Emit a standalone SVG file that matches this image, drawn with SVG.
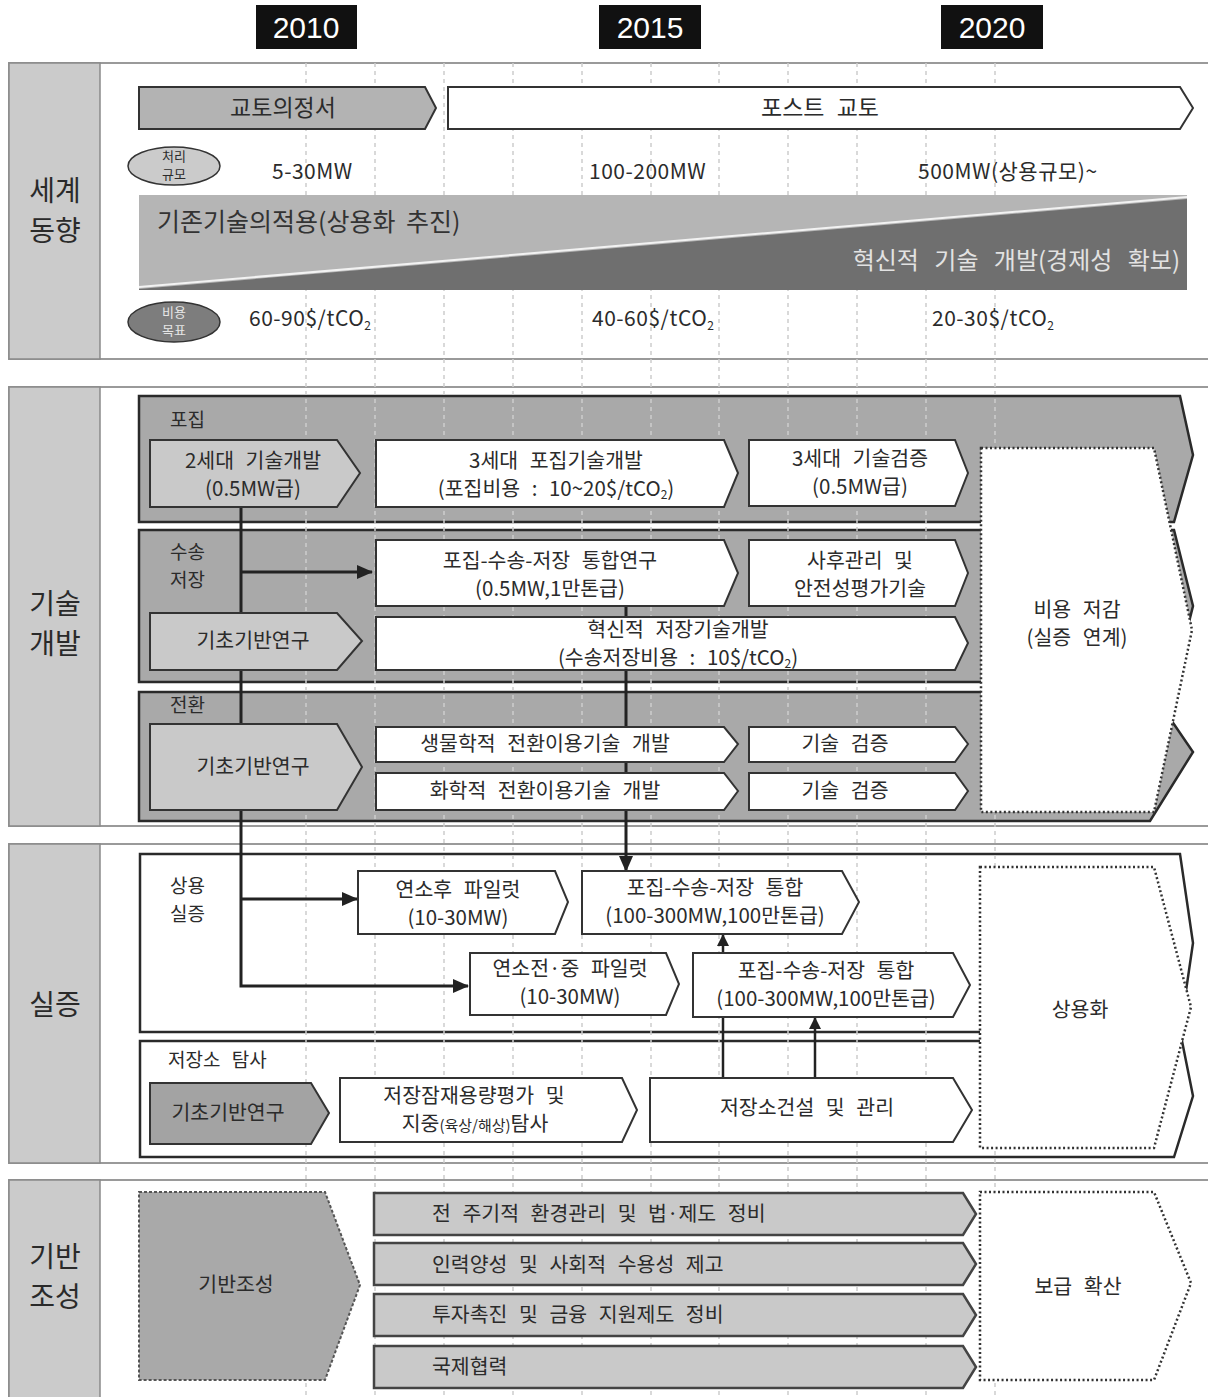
<svg xmlns="http://www.w3.org/2000/svg" width="1208" height="1397" viewBox="0 0 1208 1397">
<style>
.t{font-family:"Noto Sans CJK KR","Noto Sans",sans-serif;font-size:20.5px;fill:#2b2b2b;word-spacing:7px;text-anchor:middle}
.l{text-anchor:start}
.lb{font-size:19px}
.sec{font-size:28px;fill:#2a2a2a;word-spacing:0}
.sm{font-size:13px;word-spacing:0}
.num{font-size:21px;text-anchor:start;letter-spacing:0.5px}
.yr{font-family:"Liberation Sans",Arial,sans-serif;font-size:30px;fill:#fff;text-anchor:middle}
.frame{fill:#fff;stroke:#9a9a9a;stroke-width:2}
.col{fill:#cbcbcb;stroke:#8a8a8a;stroke-width:1.5}
.nw{fill:#fff;stroke:#333;stroke-width:2}
.ng{fill:#c9c9c9;stroke:#333;stroke-width:2}
.bar{fill:#c9c9c9;stroke:#444;stroke-width:2.5}
.band{fill:#a9a9a9;stroke:#2a2a2a;stroke-width:2.5}
.panel{fill:#fff;stroke:#2a2a2a;stroke-width:2.5}
.dot{fill:#fff;stroke:#333;stroke-width:2.5;stroke-dasharray:2 2.5}
.guide{stroke:#cdcdcd;stroke-width:1.5;stroke-dasharray:4 4}
.conn{stroke:#222;stroke-width:3;fill:none}
.thin{stroke:#222;stroke-width:2.5;fill:none}
</style>
<defs>
<marker id="arr" markerUnits="userSpaceOnUse" markerWidth="16" markerHeight="14" viewBox="0 0 16 14" refX="15" refY="7" orient="auto"><path d="M0,0 L16,7 L0,14 z" fill="#222"/></marker>
<marker id="arrs" markerUnits="userSpaceOnUse" markerWidth="12" markerHeight="12" viewBox="0 0 12 12" refX="11" refY="6" orient="auto"><path d="M0,0 L12,6 L0,12 z" fill="#222"/></marker>
</defs>
<rect width="1208" height="1397" fill="#fff"/>

<!-- year labels -->
<g id="years">
<rect x="256" y="5" width="101" height="44" fill="#111"/><text class="yr" x="306" y="38">2010</text>
<rect x="599" y="5" width="102" height="44" fill="#111"/><text class="yr" x="650" y="38">2015</text>
<rect x="941" y="5" width="102" height="44" fill="#111"/><text class="yr" x="992" y="38">2020</text>
</g>

<!-- section frames -->
<g id="sections">
<rect class="frame" x="9" y="63" width="1210" height="296"/>
<rect class="col" x="9" y="63" width="91" height="296"/>
<text class="t sec" x="55" y="201">세계</text><text class="t sec" x="55" y="241">동향</text>
<rect class="frame" x="9" y="387" width="1210" height="439"/>
<rect class="col" x="9" y="387" width="91" height="439"/>
<text class="t sec" x="55" y="614">기술</text><text class="t sec" x="55" y="654">개발</text>
<rect class="frame" x="9" y="844" width="1210" height="319"/>
<rect class="col" x="9" y="844" width="91" height="319"/>
<text class="t sec" x="55" y="1015">실증</text>
<rect class="frame" x="9" y="1180" width="1210" height="240"/>
<rect class="col" x="9" y="1180" width="91" height="240"/>
<text class="t sec" x="55" y="1267">기반</text><text class="t sec" x="55" y="1307">조성</text>
</g>

<!-- bands / panels -->
<g id="bands">
<polygon class="band" points="139,396 1180,396 1193,455 1174,522 139,522"/>
<polygon class="band" points="139,530 1174,530 1193,606 1174,682 139,682"/>
<polygon class="band" points="139,692 1152,692 1193,752 1150,821 139,821"/>
<polygon class="panel" points="140,854 1180,854 1193,943 1180,1032 140,1032"/>
<polygon class="panel" points="140,1041 1182,1041 1193,1096 1174,1157 140,1157"/>
<text class="t l lb" x="170" y="427">포집</text>
<text class="t l lb" x="170" y="559">수송</text>
<text class="t l lb" x="170" y="587">저장</text>
<text class="t l lb" x="170" y="712">전환</text>
<text class="t l lb" x="170" y="893">상용</text>
<text class="t l lb" x="170" y="921">실증</text>
<text class="t l lb" x="168" y="1067">저장소 탐사</text>
</g>

<!-- guide lines -->
<g id="guides">
<line class="guide" x1="306" y1="63" x2="306" y2="1397"/>
<line class="guide" x1="375" y1="63" x2="375" y2="1397"/>
<line class="guide" x1="444" y1="63" x2="444" y2="1397"/>
<line class="guide" x1="513" y1="63" x2="513" y2="1397"/>
<line class="guide" x1="582" y1="63" x2="582" y2="1397"/>
<line class="guide" x1="651" y1="63" x2="651" y2="1397"/>
<line class="guide" x1="719" y1="63" x2="719" y2="1397"/>
<line class="guide" x1="788" y1="63" x2="788" y2="1397"/>
<line class="guide" x1="857" y1="63" x2="857" y2="1397"/>
<line class="guide" x1="926" y1="63" x2="926" y2="1397"/>
<line class="guide" x1="995" y1="63" x2="995" y2="1397"/>
</g>

<!-- connectors -->
<g id="connectors">
<path class="conn" d="M241,507 V986 H468" marker-end="url(#arr)"/>
<path class="conn" d="M241,572 H372" marker-end="url(#arr)"/>
<path class="conn" d="M241,899 H357" marker-end="url(#arr)"/>
<path class="conn" d="M626,606 V871" marker-end="url(#arr)"/>
<path class="thin" d="M723,1078 V935" marker-end="url(#arrs)"/>
<path class="thin" d="M815,1078 V1018" marker-end="url(#arrs)"/>
</g>

<!-- world trend section -->
<g id="kyoto"><polygon points="139,87 425,87 436,108 425,129 139,129" fill="#b3b3b3" stroke="#333" stroke-width="2"/><text class="t" x="283" y="116" style="font-size:23px">교토의정서</text></g>
<g id="postkyoto"><polygon class="nw" points="448,87 1180,87 1193,108 1180,129 448,129"/><text class="t" x="820" y="116" style="font-size:23px">포스트 교토</text></g>
<g id="scale"><ellipse cx="174" cy="166" rx="46" ry="19" fill="#cbcbcb" stroke="#333" stroke-width="1.5"/><text class="t sm" x="174" y="161">처리</text><text class="t sm" x="174" y="179">규모</text></g>
<g id="scale-values">
<text class="t num" x="272" y="179">5-30MW</text>
<text class="t num" x="589" y="179">100-200MW</text>
<text class="t num" x="918" y="179">500MW(상용규모)~</text>
</g>
<g id="wedge">
<rect x="139" y="195" width="1048" height="95" fill="#b5b5b5"/>
<polygon points="139,289 1187,199 1187,290 139,290" fill="#6f6f6f"/>
<line x1="139" y1="287" x2="1187" y2="197" stroke="#f2f2f2" stroke-width="2"/>
<text class="t l" x="157" y="231" style="font-size:25px;fill:#333;word-spacing:5px">기존기술의적용(상용화 추진)</text>
<text class="t" x="1180" y="269" style="font-size:24px;fill:#e2e2e2;text-anchor:end;word-spacing:10px">혁신적 기술 개발(경제성 확보)</text>
</g>
<g id="cost"><ellipse cx="174" cy="322" rx="46" ry="20" fill="#7d7d7d" stroke="#333" stroke-width="1.5"/><text class="t sm" x="174" y="317" style="fill:#e6e6e6">비용</text><text class="t sm" x="174" y="335" style="fill:#e6e6e6">목표</text></g>
<g id="cost-values">
<text class="t num" x="249" y="326">60-90$/tCO<tspan style="font-size:12px" dy="4">2</tspan></text>
<text class="t num" x="592" y="326">40-60$/tCO<tspan style="font-size:12px" dy="4">2</tspan></text>
<text class="t num" x="932" y="326">20-30$/tCO<tspan style="font-size:12px" dy="4">2</tspan></text>
</g>

<!-- tech dev nodes -->
<g id="n-2gen"><polygon class="ng" points="150,440 337,440 360,473 337,507 150,507"/><text class="t" x="253" y="468">2세대 기술개발</text><text class="t" x="253" y="496">(0.5MW급)</text></g>
<g id="n-3gen"><polygon class="nw" points="376,440 724,440 738,473 724,507 376,507"/><text class="t" x="556" y="468">3세대 포집기술개발</text><text class="t" x="556" y="496">(포집비용 : 10~20$/tCO<tspan style="font-size:12px" dy="3">2</tspan><tspan dy="-3">)</tspan></text></g>
<g id="n-3verify"><polygon class="nw" points="749,440 955,440 968,473 955,506 749,506"/><text class="t" x="860" y="466">3세대 기술검증</text><text class="t" x="860" y="494">(0.5MW급)</text></g>
<g id="n-integ-research"><polygon class="nw" points="376,540 724,540 738,573 724,606 376,606"/><text class="t" x="550" y="568">포집-수송-저장 통합연구</text><text class="t" x="550" y="596">(0.5MW,1만톤급)</text></g>
<g id="n-aftercare"><polygon class="nw" points="749,540 955,540 968,573 955,606 749,606"/><text class="t" x="860" y="568">사후관리 및</text><text class="t" x="860" y="596">안전성평가기술</text></g>
<g id="n-basic1"><polygon class="ng" points="150,613 337,613 362,641 337,670 150,670"/><text class="t" x="253" y="648">기초기반연구</text></g>
<g id="n-innov-storage"><polygon class="nw" points="376,617 955,617 968,643 955,670 376,670"/><text class="t" x="678" y="637">혁신적 저장기술개발</text><text class="t" x="678" y="665">(수송저장비용 : 10$/tCO<tspan style="font-size:12px" dy="3">2</tspan><tspan dy="-3">)</tspan></text></g>
<g id="n-basic2"><polygon class="ng" points="150,724 337,724 362,767 337,810 150,810"/><text class="t" x="253" y="774">기초기반연구</text></g>
<g id="n-bio"><polygon class="nw" points="376,727 724,727 738,744 724,762 376,762"/><text class="t" x="545" y="751">생물학적 전환이용기술 개발</text></g>
<g id="n-chem"><polygon class="nw" points="376,773 724,773 738,791 724,810 376,810"/><text class="t" x="545" y="798">화학적 전환이용기술 개발</text></g>
<g id="n-verify1"><polygon class="nw" points="749,727 955,727 968,744 955,762 749,762"/><text class="t" x="845" y="751">기술 검증</text></g>
<g id="n-verify2"><polygon class="nw" points="749,773 955,773 968,791 955,810 749,810"/><text class="t" x="845" y="798">기술 검증</text></g>
<g id="n-costdown"><polygon class="dot" points="981,448 1154,448 1192,630 1154,812 981,812"/><text class="t" x="1077" y="617">비용 저감</text><text class="t" x="1077" y="645">(실증 연계)</text></g>

<!-- demonstration nodes -->
<g id="n-post-pilot"><polygon class="nw" points="358,871 555,871 568,902 555,934 358,934"/><text class="t" x="458" y="897">연소후 파일럿</text><text class="t" x="458" y="925">(10-30MW)</text></g>
<g id="n-integ1"><polygon class="nw" points="582,871 842,871 859,902 842,934 582,934"/><text class="t" x="715" y="895">포집-수송-저장 통합</text><text class="t" x="715" y="923">(100-300MW,100만톤급)</text></g>
<g id="n-pre-pilot"><polygon class="nw" points="470,953 666,953 679,984 666,1015 470,1015"/><text class="t" x="570" y="976">연소전·중 파일럿</text><text class="t" x="570" y="1004">(10-30MW)</text></g>
<g id="n-integ2"><polygon class="nw" points="693,953 953,953 970,985 953,1017 693,1017"/><text class="t" x="826" y="978">포집-수송-저장 통합</text><text class="t" x="826" y="1006">(100-300MW,100만톤급)</text></g>
<g id="n-basic3"><polygon points="150,1083 311,1083 329,1113 311,1144 150,1144" fill="#a3a3a3" stroke="#333" stroke-width="2"/><text class="t" x="228" y="1120">기초기반연구</text></g>
<g id="n-explore"><polygon class="nw" points="340,1078 622,1078 637,1110 622,1142 340,1142"/><text class="t" x="474" y="1103">저장잠재용량평가 및</text><text class="t" x="475" y="1131" style="word-spacing:0">지중<tspan style="font-size:15px">(육상/해상)</tspan>탐사</text></g>
<g id="n-build"><polygon class="nw" points="650,1078 953,1078 972,1110 953,1142 650,1142"/><text class="t" x="807" y="1115">저장소건설 및 관리</text></g>
<g id="n-commercial"><polygon class="dot" points="980,867 1154,867 1191,1007 1154,1148 980,1148"/><text class="t" x="1080" y="1017">상용화</text></g>

<!-- infrastructure nodes -->
<g id="n-infra"><polygon points="139,1192 325,1192 360,1285 325,1380 139,1380" fill="#a9a9a9" stroke="#555" stroke-width="2" stroke-dasharray="3 2"/><text class="t" x="236" y="1292">기반조성</text></g>
<g id="n-bar1"><polygon class="bar" points="374,1193 963,1193 976,1214 963,1235 374,1235"/><text class="t l" x="432" y="1221">전 주기적 환경관리 및 법·제도 정비</text></g>
<g id="n-bar2"><polygon class="bar" points="374,1243 963,1243 976,1264 963,1285 374,1285"/><text class="t l" x="432" y="1272">인력양성 및 사회적 수용성 제고</text></g>
<g id="n-bar3"><polygon class="bar" points="374,1294 963,1294 976,1315 963,1336 374,1336"/><text class="t l" x="432" y="1322">투자촉진 및 금융 지원제도 정비</text></g>
<g id="n-bar4"><polygon class="bar" points="374,1346 963,1346 976,1367 963,1388 374,1388"/><text class="t l" x="432" y="1374">국제협력</text></g>
<g id="n-spread"><polygon class="dot" points="980,1192 1154,1192 1191,1283 1154,1380 980,1380"/><text class="t" x="1078" y="1294">보급 확산</text></g>
</svg>
